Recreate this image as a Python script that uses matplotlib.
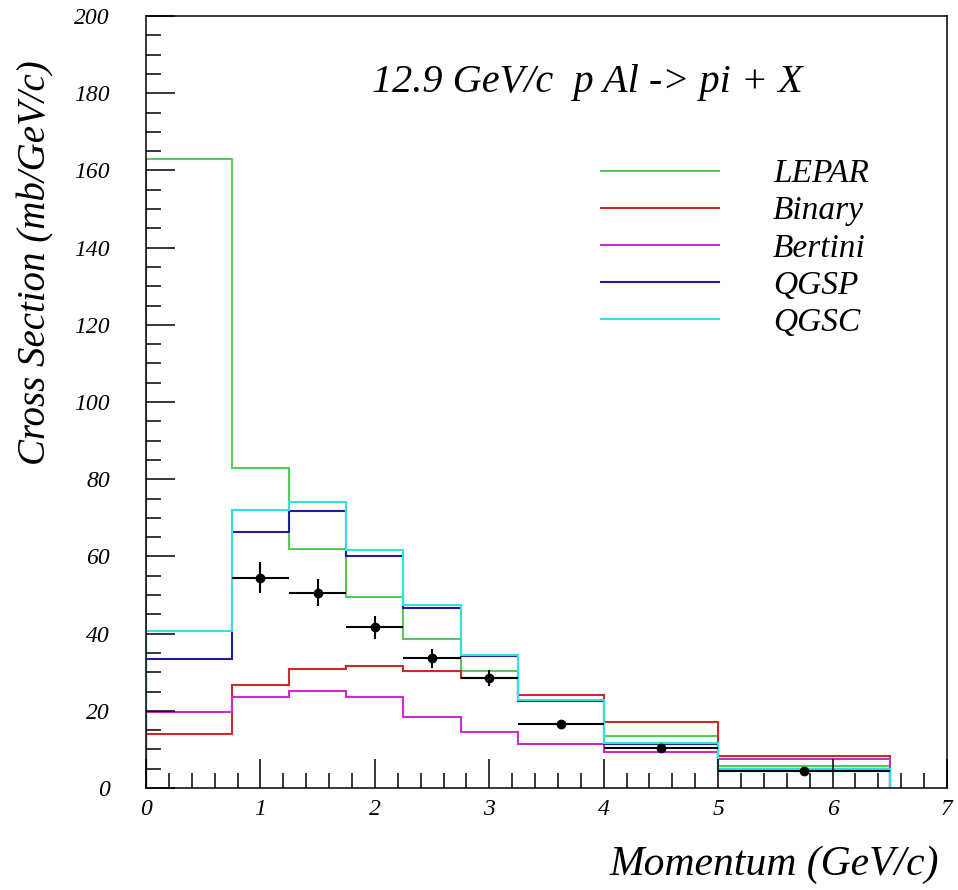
import numpy as np
import matplotlib
matplotlib.use("Agg")
import matplotlib.pyplot as plt
from matplotlib.ticker import MultipleLocator

# --- bin edges (GeV/c) and model predictions (mb/GeV/c) ---
edges = [0.0, 0.75, 1.25, 1.75, 2.25, 2.75, 3.25, 4.0, 5.0, 6.5]

lepar = [163.0, 82.8, 62.0, 49.6, 38.7, 30.2, 22.7, 13.5, 5.7]
binary = [14.0, 26.6, 30.8, 31.5, 30.2, 28.4, 24.1, 17.1, 8.2]
bertini = [19.7, 23.7, 25.1, 23.6, 18.4, 14.5, 11.4, 9.2, 7.4]
qgsp = [33.4, 66.4, 71.7, 60.2, 46.7, 34.2, 22.6, 11.4, 4.9]
qgsc = [40.7, 72.1, 74.2, 61.6, 47.3, 34.4, 22.8, 11.7, 5.0]

models = ["LEPAR", "Binary", "Bertini", "QGSP", "QGSC"]
colors = ["#55cc55", "#cc2a2a", "#cc2ccc", "#1e1e9a", "#33e0e0"]

# --- measured points (first bin has no data) ---
data_bins = [1, 2, 3, 4, 5, 6, 7, 8]
data_y = [54.5, 50.6, 41.6, 33.6, 28.5, 16.6, 10.4, 4.3]
data_err = [4.1, 3.5, 2.9, 2.4, 2.0, 1.0, 0.8, 0.5]

plt.rcParams["font.family"] = ["Liberation Serif", "DejaVu Serif"]
plt.rcParams["font.style"] = "italic"

fig = plt.figure(figsize=(9.58, 8.90), dpi=100)
ax = fig.add_axes([146 / 958, 1 - 788 / 890, 801 / 958, 772 / 890])

for vals, name, col in zip([lepar, binary, bertini, qgsp, qgsc], models, colors):
    ax.stairs(vals, edges, baseline=0, color=col, lw=1.5, label=name)

e = np.array(edges)
centers = 0.5 * (e[:-1] + e[1:])
halfw = 0.5 * (e[1:] - e[:-1])
ax.errorbar(centers[data_bins], data_y, yerr=data_err, xerr=halfw[data_bins],
            fmt="o", color="black", ms=6, elinewidth=1.5, capsize=0, zorder=5)

ax.set_xlim(0, 7)
ax.set_ylim(0, 200)
ax.xaxis.set_major_locator(MultipleLocator(1))
ax.xaxis.set_minor_locator(MultipleLocator(0.2))
ax.yaxis.set_major_locator(MultipleLocator(20))
ax.yaxis.set_minor_locator(MultipleLocator(5))
ax.tick_params(which="both", direction="in", top=False, right=False, width=1.1)
ax.tick_params(which="major", length=21, labelsize=17)
ax.tick_params(which="minor", length=11)
ax.tick_params(axis="y", which="major", pad=26)
ax.tick_params(axis="x", which="major", pad=8)
for s in ax.spines.values():
    s.set_linewidth(1.1)

ax.set_xlabel("Momentum (GeV/c)", fontsize=30, loc="right")
ax.xaxis.set_label_coords(0.99, -0.075)
ax.set_ylabel("Cross Section (mb/GeV/c)", fontsize=28, loc="top")
ax.yaxis.set_label_coords(-0.114, 0.943)

ax.text(0.282, 0.9016, "12.9 GeV/c  p Al -> pi + X", transform=ax.transAxes,
        fontsize=29, va="baseline", ha="left")

ax.legend(loc="upper left", bbox_to_anchor=(0.568, 0.815), frameon=False,
          fontsize=24, handlelength=3.54, handletextpad=1.62, labelspacing=0.2,
          borderpad=0, borderaxespad=0, handleheight=0.7)

fig.savefig("out.png", dpi=100)
